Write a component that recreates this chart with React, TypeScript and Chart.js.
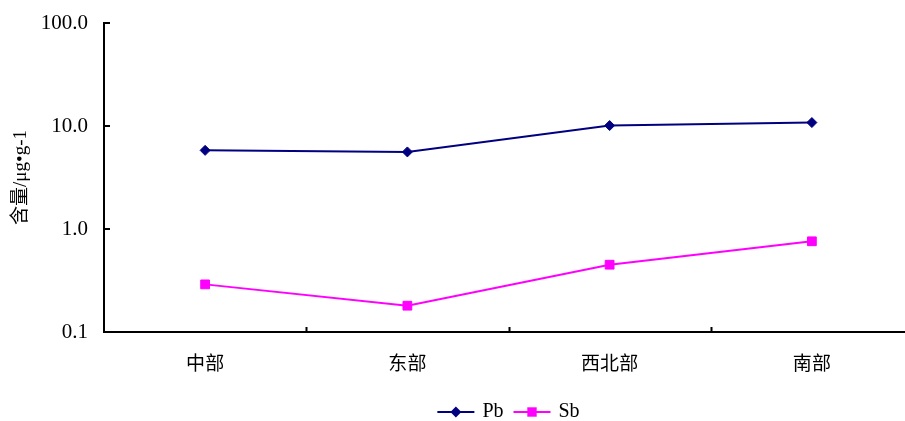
import React, { useEffect, useRef } from 'react';
import { Chart, registerables } from 'chart.js';

Chart.register(...registerables);

const categories = ['中部', '东部', '西北部', '南部'];
const pbValues = [5.8, 5.6, 10.1, 10.8];
const sbValues = [0.29, 0.18, 0.45, 0.76];
const yTicks = [0.1, 1, 10, 100];
const yTitle = '含量/μg•g-1';
const seriesNames = ['Pb', 'Sb'];

const SERIF = '"Liberation Serif", "Noto Sans CJK SC", serif';
const PB_COLOR = '#000080';
const SB_COLOR = '#FF00FF';

const W = 930;
const H = 421;

const tickMarks = {
  id: 'tickMarks',
  afterDraw(chart: any) {
    const { ctx, chartArea } = chart;
    const y = chart.scales.y;
    const x = chart.scales.x;
    ctx.save();
    ctx.strokeStyle = '#000';
    ctx.lineWidth = 2;
    ctx.beginPath();
    yTicks.forEach((v) => {
      const py = Math.round(y.getPixelForValue(v));
      ctx.moveTo(chartArea.left, py);
      ctx.lineTo(chartArea.left + 6, py);
    });
    for (let i = 0; i < categories.length - 1; i++) {
      const px = Math.round((x.getPixelForValue(i) + x.getPixelForValue(i + 1)) / 2) + 0.5;
      ctx.moveTo(px, chartArea.bottom);
      ctx.lineTo(px, chartArea.bottom - 5);
    }
    ctx.stroke();
    ctx.restore();
  },
};

const lineLegend = {
  id: 'lineLegend',
  afterDraw(chart: any) {
    const { ctx, chartArea } = chart;
    const cx = (chartArea.left + chartArea.right) / 2;
    const cy = 412;
    const lineLen = 37;
    ctx.save();
    ctx.font = `20px ${SERIF}`;
    ctx.textBaseline = 'middle';
    const items = chart.data.datasets.map((ds: any) => ({
      label: ds.label,
      color: ds.borderColor,
      style: ds.pointStyle,
      w: ctx.measureText(ds.label).width,
    }));
    const gapText = 8;
    const gapItem = 10;
    let total = 0;
    items.forEach((it: any, i: number) => {
      total += lineLen + gapText + it.w + (i < items.length - 1 ? gapItem : 0);
    });
    let x = cx - total / 2;
    items.forEach((it: any) => {
      ctx.strokeStyle = it.color;
      ctx.fillStyle = it.color;
      ctx.lineWidth = 2;
      ctx.beginPath();
      ctx.moveTo(x, cy);
      ctx.lineTo(x + lineLen, cy);
      ctx.stroke();
      const mx = x + lineLen / 2;
      ctx.beginPath();
      if (it.style === 'rectRot') {
        const r = 5.5;
        ctx.moveTo(mx, cy - r);
        ctx.lineTo(mx + r, cy);
        ctx.lineTo(mx, cy + r);
        ctx.lineTo(mx - r, cy);
        ctx.closePath();
      } else {
        const s = 4.7;
        ctx.rect(mx - s, cy - s, 2 * s, 2 * s);
      }
      ctx.fill();
      ctx.fillStyle = '#000';
      ctx.fillText(it.label, x + lineLen + gapText, cy);
      x += lineLen + gapText + it.w + gapItem;
    });
    ctx.restore();
  },
};

export default function App() {
  const ref = useRef<HTMLCanvasElement>(null);
  useEffect(() => {
    if (!ref.current) return;
    const chart = new Chart(ref.current, {
      type: 'line',
      data: {
        labels: categories,
        datasets: [
          {
            label: seriesNames[0],
            data: pbValues,
            borderColor: PB_COLOR,
            backgroundColor: PB_COLOR,
            pointBackgroundColor: PB_COLOR,
            pointBorderColor: PB_COLOR,
            borderWidth: 2,
            pointStyle: 'rectRot',
            pointRadius: 5,
            pointBorderWidth: 1,
            tension: 0,
          },
          {
            label: seriesNames[1],
            data: sbValues,
            borderColor: SB_COLOR,
            backgroundColor: SB_COLOR,
            pointBackgroundColor: SB_COLOR,
            pointBorderColor: SB_COLOR,
            borderWidth: 2,
            pointStyle: 'rect',
            pointRadius: 6.2,
            pointBorderWidth: 1,
            tension: 0,
          },
        ],
      },
      options: {
        animation: false,
        responsive: false,
        devicePixelRatio: 1,
        layout: { padding: { left: 0, top: 23, right: W - 913, bottom: 39 } },
        plugins: {
          legend: { display: false },
          tooltip: { enabled: false },
        },
        scales: {
          x: {
            type: 'category',
            offset: true,
            grid: { display: true, drawOnChartArea: false, drawTicks: false },
            border: { display: true, color: '#000', width: 2 },
            ticks: {
              color: '#000',
              padding: 22,
              font: { family: SERIF, size: 19 },
              maxRotation: 0,
            },
            afterFit: (s: any) => {
              s.height = 50;
            },
          },
          y: {
            type: 'logarithmic',
            min: 0.1,
            max: 100,
            grid: { display: true, drawOnChartArea: false, drawTicks: false },
            border: { display: true, color: '#000', width: 2 },
            afterBuildTicks: (s: any) => {
              s.ticks = yTicks.map((v) => ({ value: v }));
            },
            ticks: {
              color: '#000',
              padding: 16,
              font: { family: SERIF, size: 21 },
              callback: (v: any) => Number(v).toFixed(1),
            },
            title: {
              display: true,
              text: yTitle,
              color: '#000',
              font: { family: SERIF, size: 19 },
              padding: { top: 10, bottom: 0 },
            },
            afterFit: (s: any) => {
              s.width = 104;
              s.paddingTop = 0;
              s.paddingBottom = 0;
            },
          },
        },
      },
      plugins: [tickMarks, lineLegend],
    });
    return () => chart.destroy();
  }, []);
  return (
    <div style={{ position: 'absolute', left: 0, top: 0, width: 905, height: 421, overflow: 'hidden', background: '#fff' }}>
      <canvas ref={ref} width={W} height={H} style={{ display: 'block' }} />
    </div>
  );
}
